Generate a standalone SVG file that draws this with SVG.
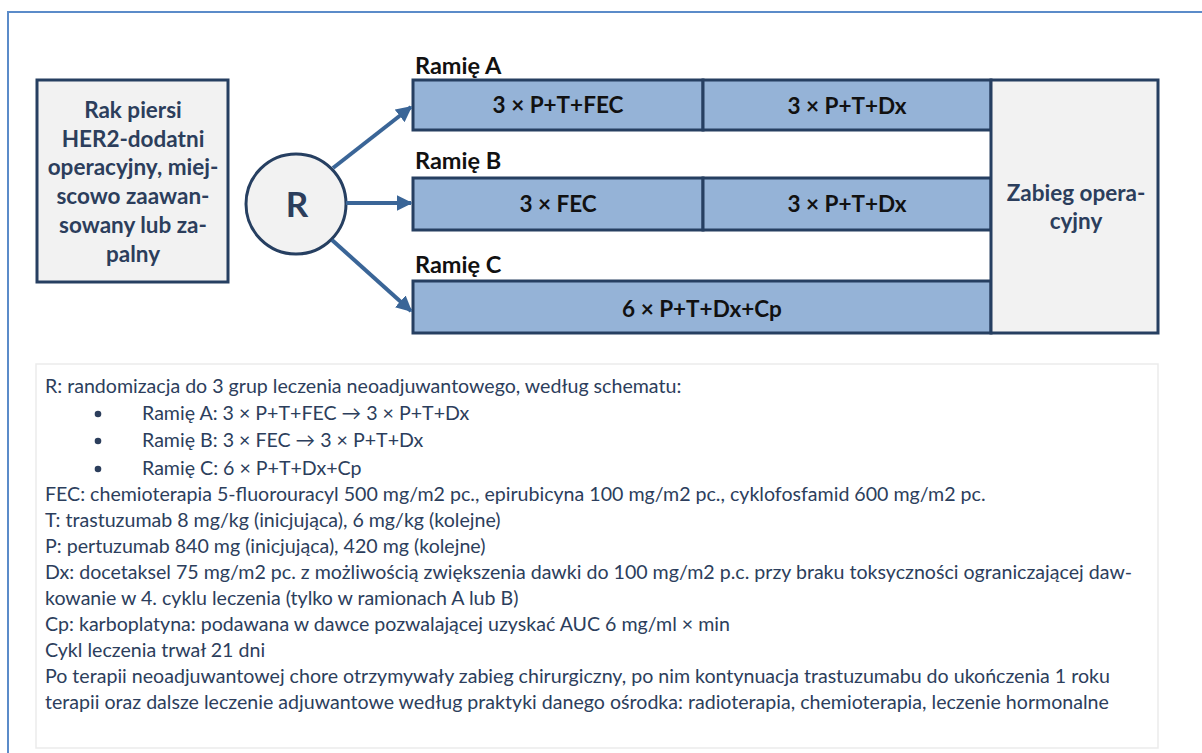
<svg xmlns="http://www.w3.org/2000/svg" width="1202" height="753" viewBox="0 0 1202 753">
<defs>
<style>
.frame{fill:none;stroke:#5B8BC9;stroke-width:2}
.gray{fill:#F2F2F2;stroke:#263F61;stroke-width:3}
.blue{fill:#95B3D7;stroke:#263F61;stroke-width:3}
.lbl{font-family:Lato,"Liberation Sans",sans-serif;font-weight:bold;font-size:23.5px;fill:#111}
.navy{font-family:Lato,"Liberation Sans",sans-serif;font-weight:bold;font-size:22.5px;fill:#2C3E5C;text-anchor:middle}
.box{font-family:Lato,"Liberation Sans",sans-serif;font-weight:bold;font-size:22.5px;fill:#111;text-anchor:middle}
.body{font-family:Lato,"Liberation Sans",sans-serif;font-size:19.6px;fill:#2C3E5C}
.conn{stroke:#3A6597;stroke-width:4;fill:none}
</style>
<marker id="ah" markerWidth="4" markerHeight="4" refX="3.6" refY="2" orient="auto" markerUnits="strokeWidth">
<path d="M0,0 L4,2 L0,4 Z" fill="#3A6597"/>
</marker>
</defs>
<rect width="1202" height="753" fill="#fff"/>
<path class="frame" d="M8,760 L8,12 L1210,12"/>

<g id="start">
<rect class="gray" x="37" y="80" width="191" height="202"/>
<text class="navy" x="133" y="118">Rak piersi</text>
<text class="navy" x="133" y="147">HER2-dodatni</text>
<text class="navy" x="133" y="175">operacyjny, miej-</text>
<text class="navy" x="133" y="204">scowo zaawan-</text>
<text class="navy" x="133" y="233">sowany lub za-</text>
<text class="navy" x="133" y="262">palny</text>
</g>

<g id="R">
<circle class="gray" cx="296" cy="204" r="50"/>
<text x="297" y="217" text-anchor="middle" font-family="Lato,'Liberation Sans',sans-serif" font-weight="bold" font-size="35" fill="#2C3E5C">R</text>
</g>

<g id="armA">
<text class="lbl" x="415" y="74">Ramię A</text>
<rect class="blue" x="413" y="80" width="290" height="50"/>
<text class="box" x="558" y="113">3 × P+T+FEC</text>
<rect class="blue" x="703" y="80" width="288" height="50"/>
<text class="box" x="847" y="114">3 × P+T+Dx</text>
</g>

<g id="armB">
<text class="lbl" x="415" y="169">Ramię B</text>
<rect class="blue" x="413" y="178" width="290" height="52"/>
<text class="box" x="558" y="212">3 × FEC</text>
<rect class="blue" x="703" y="178" width="288" height="52"/>
<text class="box" x="847" y="212">3 × P+T+Dx</text>
</g>

<g id="armC">
<text class="lbl" x="415" y="273">Ramię C</text>
<rect class="blue" x="413" y="281" width="578" height="52"/>
<text class="box" x="702" y="317">6 × P+T+Dx+Cp</text>
</g>

<g id="surgery">
<rect class="gray" x="991" y="80" width="167" height="253"/>
<text class="navy" x="1076" y="201">Zabieg opera-</text>
<text class="navy" x="1076" y="229">cyjny</text>
</g>

<g id="connectors">
<line class="conn" x1="333" y1="168" x2="411" y2="107" marker-end="url(#ah)"/>
<line class="conn" x1="346" y1="203" x2="411" y2="203" marker-end="url(#ah)"/>
<line class="conn" x1="332" y1="240" x2="411" y2="311" marker-end="url(#ah)"/>
</g>

<g id="legend">
<rect x="36" y="364" width="1122" height="384" fill="#fff" stroke="#EBEBEB" stroke-width="1.5"/>
<text class="body" x="45" y="393">R: randomizacja do 3 grup leczenia neoadjuwantowego, według schematu:</text>
<circle cx="98" cy="414" r="3.3" fill="#2C3E5C"/>
<text class="body" x="142" y="420">Ramię A: 3 × P+T+FEC → 3 × P+T+Dx</text>
<circle cx="98" cy="441" r="3.3" fill="#2C3E5C"/>
<text class="body" x="142" y="447">Ramię B: 3 × FEC → 3 × P+T+Dx</text>
<circle cx="98" cy="469" r="3.3" fill="#2C3E5C"/>
<text class="body" x="142" y="475">Ramię C: 6 × P+T+Dx+Cp</text>
<text class="body" x="45" y="501">FEC: chemioterapia 5-fluorouracyl 500 mg/m2 pc., epirubicyna 100 mg/m2 pc., cyklofosfamid 600 mg/m2 pc.</text>
<text class="body" x="45" y="527">T: trastuzumab 8 mg/kg (inicjująca), 6 mg/kg (kolejne)</text>
<text class="body" x="45" y="553">P: pertuzumab 840 mg (inicjująca), 420 mg (kolejne)</text>
<text class="body" x="45" y="579">Dx: docetaksel 75 mg/m2 pc. z możliwością zwiększenia dawki do 100 mg/m2 p.c. przy braku toksyczności ograniczającej daw-</text>
<text class="body" x="45" y="605">kowanie w 4. cyklu leczenia (tylko w ramionach A lub B)</text>
<text class="body" x="45" y="631">Cp: karboplatyna: podawana w dawce pozwalającej uzyskać AUC 6 mg/ml × min</text>
<text class="body" x="45" y="657">Cykl leczenia trwał 21 dni</text>
<text class="body" x="45" y="683">Po terapii neoadjuwantowej chore otrzymywały zabieg chirurgiczny, po nim kontynuacja trastuzumabu do ukończenia 1 roku</text>
<text class="body" x="45" y="709">terapii oraz dalsze leczenie adjuwantowe według praktyki danego ośrodka: radioterapia, chemioterapia, leczenie hormonalne</text>
</g>
</svg>
